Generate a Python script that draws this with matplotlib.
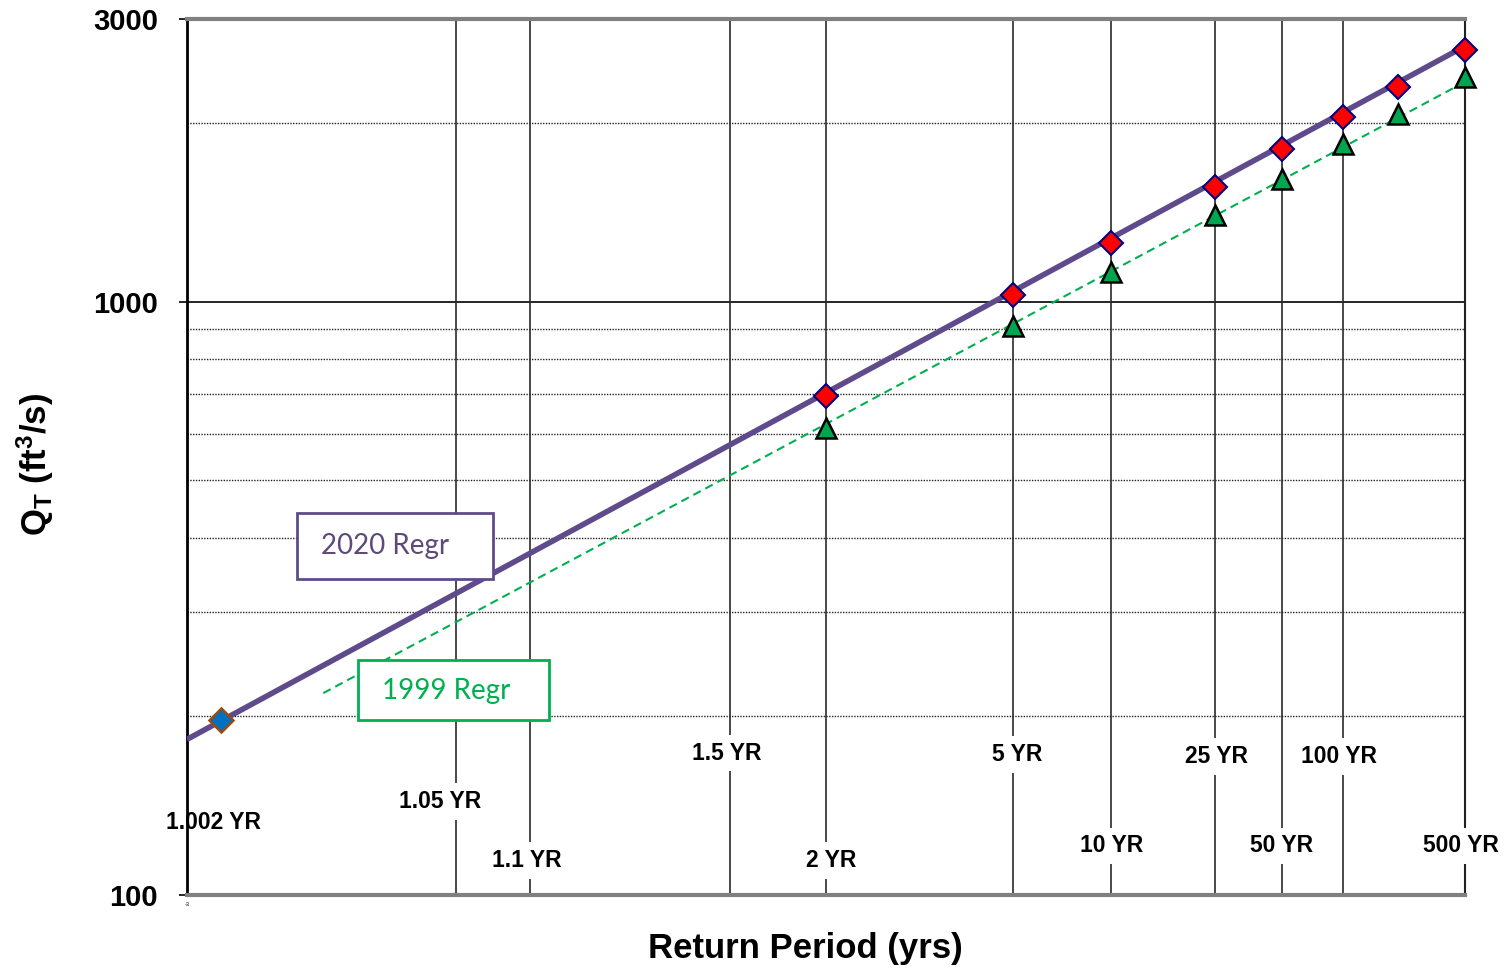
# Flood frequency plot: return period (normal probability scale) vs peak flow (log scale)
from statistics import NormalDist
import matplotlib.pyplot as plt
from matplotlib.patches import Rectangle

plt.rcParams['font.family'] = ['Liberation Sans', 'DejaVu Sans']
plt.rcParams['mathtext.fontset'] = 'custom'
plt.rcParams['mathtext.rm'] = 'Liberation Sans:bold'
plt.rcParams['mathtext.it'] = 'Liberation Sans:bold'
plt.rcParams['mathtext.bf'] = 'Liberation Sans:bold'

# data
return_periods = [2, 5, 10, 25, 50, 100, 200, 500]
q_2020 = [694, 1027, 1258, 1563, 1811, 2051, 2305, 2660]
q_1999 = [613, 911, 1124, 1402, 1612, 1847, 2075, 2396]

reg_2020_T = [1.002, 500]
reg_2020_Q = [183, 2700]
reg_1999_T = [1.0119, 500]
reg_1999_Q = [219, 2350]

low_T = [1.0032]
low_Q = [197]

grid_T = [1.05, 1.1, 1.5, 2, 5, 10, 25, 50, 100]
label_T = [1.002, 1.05, 1.1, 1.5, 2, 5, 10, 25, 50, 100, 500]
label_text = ['1.002 YR', '1.05 YR', '1.1 YR', '1.5 YR', '2 YR', '5 YR',
              '10 YR', '25 YR', '50 YR', '100 YR', '500 YR']
label_dx = [27, -16, -3, -4, 5, 4, 1, 2, 0, -4, -4]
label_y = [0.083, 0.107, 0.039, 0.162, 0.039, 0.160, 0.056, 0.158, 0.056, 0.158, 0.056]

minor_q = [200, 300, 400, 500, 600, 700, 800, 900, 2000]
y_ticks = [100, 1000, 3000]

nd = NormalDist()


def z(T):
    return nd.inv_cdf(1 - 1 / T)


def zs(Ts):
    return [z(t) for t in Ts]


purple = '#5F4B8B'
green = '#00B050'

fig = plt.figure(figsize=(15.07, 9.72), dpi=100)
ax = fig.add_axes([187 / 1507, 1 - 895 / 972, 1278 / 1507, 876 / 972])

ax.set_yscale('log')
ax.set_ylim(100, 3000)
ax.set_xlim(z(1.002), z(500))

# grid
for q in minor_q:
    ax.axhline(q, color='#222222', lw=1, ls=(0, (1, 1)), zorder=1)
ax.axhline(1000, color='black', lw=1.2, zorder=1)
for t in grid_T:
    ax.axvline(z(t), color='#2a2a2a', lw=1.2, zorder=1)

# regression lines
ax.plot(zs(reg_2020_T), reg_2020_Q, color=purple, lw=4, zorder=3,
        solid_capstyle='butt')
ax.plot(zs(reg_1999_T), reg_1999_Q, color=green, lw=1.5, ls=(0, (4, 2.5)), zorder=3)

# points
ax.plot(zs(return_periods), q_1999, ls='none', marker='^', ms=15,
        mfc='#00A550', mec='black', mew=1.8, zorder=5, clip_on=False)
ax.plot(zs(return_periods), q_2020, ls='none', marker='D', ms=12,
        mfc='#FF0000', mec='#000080', mew=1.5, zorder=6, clip_on=False)
ax.plot(zs(low_T), low_Q, ls='none', marker='D', ms=12,
        mfc='#0070C0', mec='#9C4A10', mew=1.8, zorder=6, clip_on=False)

# return period labels
for t, s, dx, yy in zip(label_T, label_text, label_dx, label_y):
    bb = None if t == 1.002 else dict(fc='white', ec='none', pad=5)
    ax.annotate(s, xy=(z(t), yy), xycoords=('data', 'axes fraction'),
                xytext=(dx, 0), textcoords='offset pixels',
                ha='center', va='center', fontsize=16.5, fontweight='bold',
                bbox=bb, zorder=4)

# regression boxes
ax.add_patch(Rectangle((0.0861, 0.3607), 0.1534, 0.0753, transform=ax.transAxes,
                       fc='white', ec=purple, lw=2, zorder=7))
ax.text(0.155, 0.398, '2020 Regr', transform=ax.transAxes, ha='center', va='center',
        fontsize=20, color='#5F497A', family='Lato', zorder=8)
ax.add_patch(Rectangle((0.1338, 0.1998), 0.1495, 0.0685, transform=ax.transAxes,
                       fc='white', ec=green, lw=2, zorder=7))
ax.text(0.2027, 0.2329, '1999 Regr', transform=ax.transAxes, ha='center', va='center',
        fontsize=20, color=green, family='Lato', zorder=8)

# axes styling
ax.set_yticks(y_ticks)
ax.set_yticklabels([str(v) for v in y_ticks], fontsize=21, fontweight='bold')
ax.yaxis.set_minor_locator(plt.NullLocator())
ax.tick_params(axis='y', length=6, width=1.2, pad=15, color='black')
ax.set_xticks([])
ax.spines['left'].set_color('black')
ax.spines['left'].set_linewidth(2)
ax.spines['right'].set_color('#222222')
ax.spines['right'].set_linewidth(1.5)
ax.spines['top'].set_color('#808080')
ax.spines['top'].set_linewidth(3)
ax.spines['bottom'].set_color('#808080')
ax.spines['bottom'].set_linewidth(3)
ax.text(0, -0.008, '-3', transform=ax.transAxes, ha='center', va='top', fontsize=4)

fig.text(805 / 1507, 1 - 948 / 972, 'Return Period (yrs)', ha='center', va='center',
         fontsize=25, fontweight='bold')
fig.text(35 / 1507, 1 - 465 / 972, r'$Q_T$ (ft$^3$/s)', ha='center', va='center',
         rotation=90, fontsize=25, fontweight='bold')

fig.savefig('out.png', dpi=100)
